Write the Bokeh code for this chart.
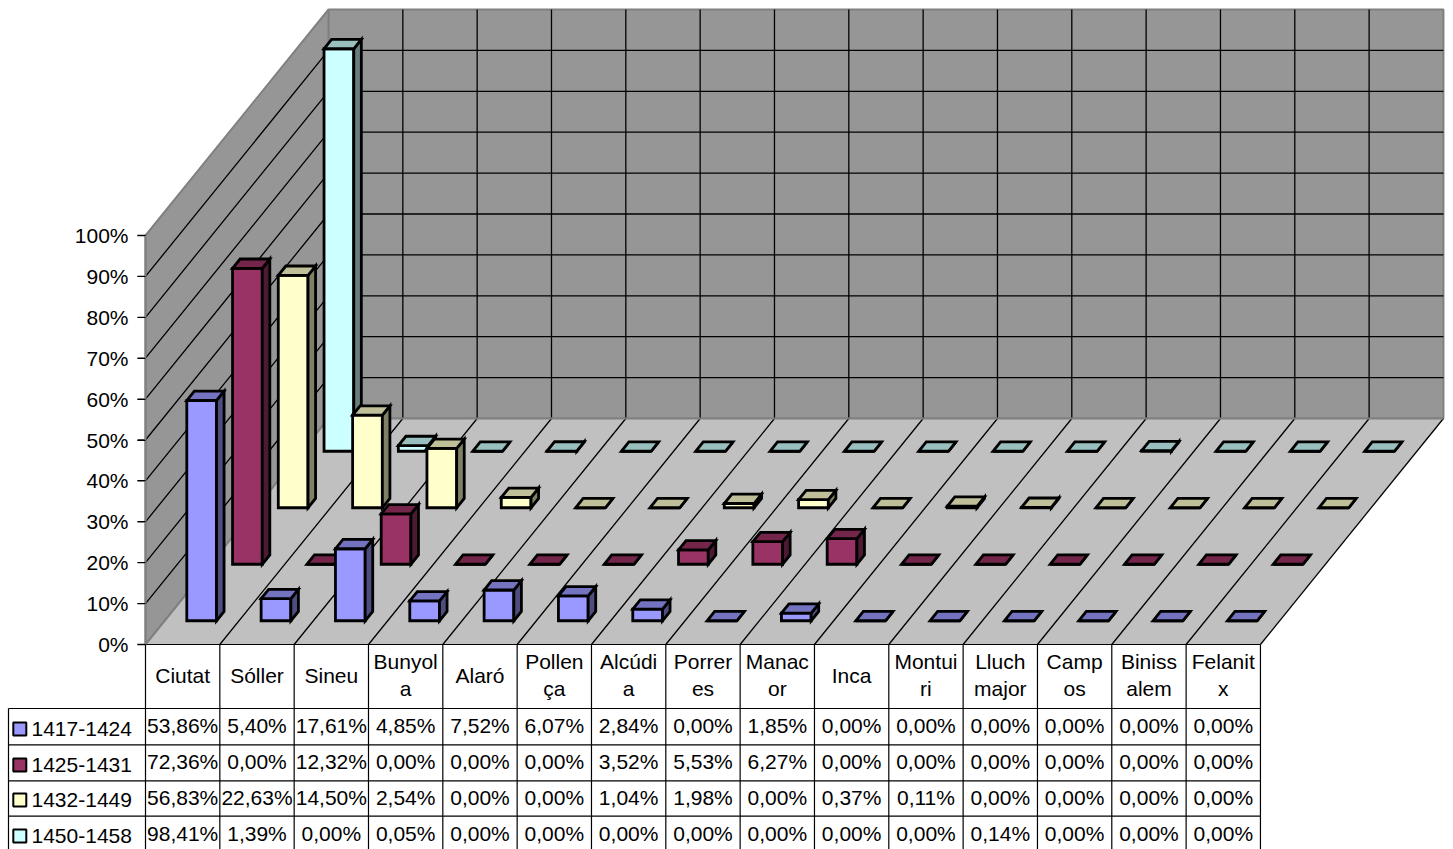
from bokeh.plotting import figure
from bokeh.models import Range1d, FixedTicker, PrintfTickFormatter
from bokeh.core.properties import value
from bokeh.embed import file_html
from bokeh.resources import INLINE

categories = ["Ciutat", "Sóller", "Sineu", "Bunyol\na", "Alaró", "Pollen\nça", "Alcúdi\na", "Porrer\nes",
              "Manac\nor", "Inca", "Montui\nri", "Lluch\nmajor", "Camp\nos", "Biniss\nalem", "Felanit\nx"]
series_names = ["1417-1424", "1425-1431", "1432-1449", "1450-1458"]
s1417 = [53.86, 5.40, 17.61, 4.85, 7.52, 6.07, 2.84, 0.00, 1.85, 0.00, 0.00, 0.00, 0.00, 0.00, 0.00]
s1425 = [72.36, 0.00, 12.32, 0.00, 0.00, 0.00, 3.52, 5.53, 6.27, 0.00, 0.00, 0.00, 0.00, 0.00, 0.00]
s1432 = [56.83, 22.63, 14.50, 2.54, 0.00, 0.00, 1.04, 1.98, 0.00, 0.37, 0.11, 0.00, 0.00, 0.00, 0.00]
s1450 = [98.41, 1.39, 0.00, 0.05, 0.00, 0.00, 0.00, 0.00, 0.00, 0.00, 0.00, 0.14, 0.00, 0.00, 0.00]
series = [s1417, s1425, s1432, s1450]
front_colors = ["#9999FF", "#993366", "#FFFFCC", "#CCFFFF"]
top_colors = ["#7373BF", "#732649", "#BFBF99", "#99BFBF"]
side_colors = ["#4D4D80", "#4D1A33", "#808066", "#668080"]

FONT = "Liberation Sans"
FS = "21px"
CAT_W = 74.33          # px per category
PCT = 4.09             # px per percent
W, H = 1453, 849
X0, Y0 = 145.0, 644.0  # page px of the origin (first category edge, 0 %)
DX = 183 / CAT_W       # total depth shift, in category units
DY = 226 / PCT         # total depth shift, in percent units
N = len(categories)
S = len(series)


def px(x_cat, y_pct, d=0.0):
    """oblique projection: category position, percent, depth (0..1)"""
    return x_cat + d * DX, y_pct + d * DY


p = figure(width=W, height=H, output_backend="svg", toolbar_location=None,
           x_range=Range1d(-X0 / CAT_W, (W - X0) / CAT_W),
           y_range=Range1d((Y0 - H) / PCT, Y0 / PCT),
           x_axis_location=None, min_border=0, outline_line_color=None,
           background_fill_color=None, border_fill_color=None)
p.grid.visible = False
p.extra_x_ranges["px"] = Range1d(0, W)
p.extra_y_ranges["px"] = Range1d(H, 0)

def poly(pts):
    return [q[0] for q in pts], [q[1] for q in pts]

# walls and floor
xs, ys = poly([px(0, 0, 1), px(N, 0, 1), px(N, 100, 1), px(0, 100, 1)])
p.patch(xs, ys, fill_color="#969696", line_color="#808080", line_width=2)
xs, ys = poly([px(0, 0, 0), px(0, 0, 1), px(0, 100, 1), px(0, 100, 0)])
p.patch(xs, ys, fill_color="#969696", line_color="#808080", line_width=2)
xs, ys = poly([px(0, 0, 0), px(N, 0, 0), px(N, 0, 1), px(0, 0, 1)])
p.patch(xs, ys, fill_color="#C0C0C0", line_color=None)

# gridlines
gx, gy = [], []
for k in range(10, 100, 10):
    a, b, c = px(0, k, 0), px(0, k, 1), px(N, k, 1)
    gx.append([a[0], b[0], c[0]])
    gy.append([a[1], b[1], c[1]])
for i in range(1, N):
    a, b, c = px(i, 0, 0), px(i, 0, 1), px(i, 100, 1)
    gx.append([a[0], b[0], c[0]])
    gy.append([a[1], b[1], c[1]])
p.multi_line(gx, gy, line_color="black", line_width=1.3)
a, b = px(N, 0, 0), px(N, 0, 1)
p.line([a[0], b[0]], [a[1], b[1]], line_color="black", line_width=1.3)
a, b, c = px(0, 0, 0), px(0, 0, 1), px(N, 0, 1)
p.line([a[0], b[0], c[0]], [a[1], b[1], c[1]], line_color="#808080", line_width=2)

# bars, back to front
BAR_X, BAR_W = 0.297, 0.40
BAR_D0, BAR_D = 0.42, 0.165
bx, by, bc = [], [], []
for s in range(S - 1, -1, -1):
    d0 = (s + BAR_D0) / S
    d1 = (s + BAR_D0 + BAR_D) / S
    for c, v in enumerate(series[s]):
        l, r = c + BAR_X, c + BAR_X + BAR_W
        faces = [
            ([px(l, 0, d0), px(r, 0, d0), px(r, v, d0), px(l, v, d0)], front_colors[s]),
            ([px(r, 0, d0), px(r, 0, d1), px(r, v, d1), px(r, v, d0)], side_colors[s]),
            ([px(l, v, d0), px(r, v, d0), px(r, v, d1), px(l, v, d1)], top_colors[s]),
        ]
        for pts, col in faces:
            xs, ys = poly(pts)
            bx.append(xs)
            by.append(ys)
            bc.append(col)
p.patches(bx, by, fill_color=bc, line_color="black", line_width=2.8, line_join="miter")

# y axis on the wall edge
ticks = list(range(0, 101, 10))
ax = p.yaxis[0]
ax.fixed_location = 0
ax.bounds = (0, 100)
ax.ticker = FixedTicker(ticks=ticks)
ax.formatter = PrintfTickFormatter(format="%d%%")
ax.major_label_text_font = FONT
ax.major_label_text_font_size = FS
ax.major_label_text_color = "black"
ax.major_label_standoff = 9
ax.major_tick_out = 8
ax.major_tick_in = 0
ax.minor_tick_out = 0
ax.minor_tick_in = 0
ax.major_tick_line_color = "black"
ax.axis_line_color = "#808080"
ax.axis_line_width = 2
p.segment([-8 / CAT_W] * len(ticks), ticks, [0] * len(ticks), ticks, line_color="black", line_width=1.3)

# data table
ROW_Y = [708, 744.3, 780.3, 815.7, 852]
TX0, TY0 = 8, 644
col_edges = [X0 + i * CAT_W for i in range(N + 1)]
lx = [[e, e] for e in col_edges]
ly = [[TY0, 852] for e in col_edges]
lx.append([X0, col_edges[-1]]); ly.append([TY0, TY0])
for y in ROW_Y[:-1]:
    lx.append([TX0, col_edges[-1]]); ly.append([y, y])
lx.append([TX0, TX0]); ly.append([ROW_Y[0], 852])
p.multi_line(lx, ly, line_color="black", line_width=1.2, x_range_name="px", y_range_name="px")

def txt(x, y, t, align="center"):
    p.text(x, y, text=t, text_font=value(FONT), text_font_size=value(FS), text_color="black",
           text_align=align, text_baseline="middle", text_line_height=1.17,
           x_range_name="px", y_range_name="px")

centers = [X0 + (i + 0.5) * CAT_W for i in range(N)]
txt(centers, [674.5] * N, categories)
fmt = lambda v: f"{v:.2f}".replace(".", ",") + "%"
VAL_Y = [725, 761, 796.5, 832.5]
for r in range(S):
    txt(centers, [VAL_Y[r]] * N, [fmt(v) for v in series[r]])
KEY_Y = [728.5, 764.5, 799.5, 835.5]
txt([31] * S, [y - 0.5 for y in KEY_Y], series_names, align="left")
p.scatter([19.3] * S, KEY_Y, marker="square", size=13, fill_color=front_colors, line_color="black",
          line_width=2, x_range_name="px", y_range_name="px")

open("out.html", "w").write(file_html(p, INLINE))
